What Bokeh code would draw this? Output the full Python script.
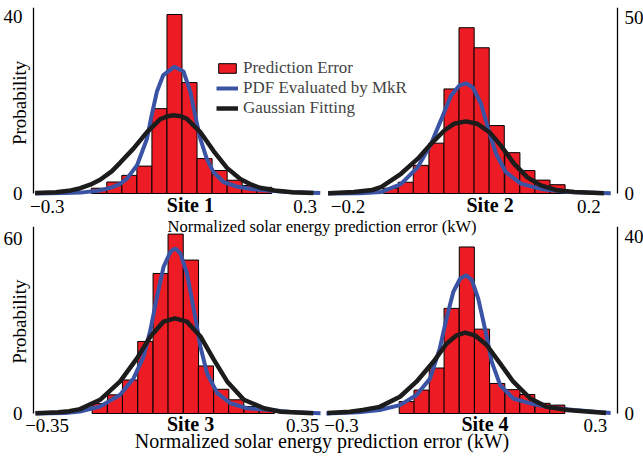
from bokeh.plotting import figure
from bokeh.models import Range1d, LinearAxis, FixedTicker, Legend, LegendItem
from bokeh.core.properties import value
from bokeh.layouts import column
from bokeh.embed import file_html
from bokeh.resources import INLINE

# ---------------- data ----------------
# Site 1
s1_bin_centers = [-0.180, -0.144, -0.109, -0.074, -0.039, -0.004, 0.031, 0.066, 0.101, 0.136, 0.170, 0.205]
s1_bin_heights = [1.2, 2.6, 4.1, 6.2, 19.2, 40.5, 25.1, 7.9, 5.2, 3.0, 1.8, 1.4]
s1_bin_width = 0.0349
s1_mkr_x = [-0.328, -0.26, -0.223, -0.177, -0.150, -0.130, -0.115, -0.091, -0.068, -0.057, -0.045,
            -0.030, -0.004, 0.017, 0.033, 0.044, 0.056, 0.071, 0.087, 0.110, 0.140, 0.175, 0.220, 0.27, 0.335]
s1_mkr_y = [0.0, 0.1, 0.2, 0.7, 1.4, 2.2, 3.3, 6.4, 12.4, 17.7, 23.0,
            26.8, 28.7, 27.6, 23.0, 17.7, 12.4, 7.9, 4.8, 2.6, 1.6, 1.0, 0.6, 0.3, 0.1]
s1_gauss_x = [-0.328, -0.28, -0.25, -0.223, -0.20, -0.177, -0.15, -0.13, -0.099, -0.068, -0.037, -0.02,
              -0.006, 0.01, 0.025, 0.056, 0.087, 0.118, 0.149, 0.175, 0.195, 0.234, 0.27, 0.319]
s1_gauss_y = [0.1, 0.3, 0.6, 1.2, 2.0, 3.1, 5.0, 7.0, 10.2, 13.9, 16.8, 17.5,
              17.7, 17.5, 16.9, 13.9, 9.6, 5.8, 3.3, 2.0, 1.3, 0.6, 0.3, 0.1]

# Site 2
s2_bin_centers = [-0.129, -0.104, -0.079, -0.053, -0.028, -0.003, 0.022, 0.047, 0.073, 0.098, 0.123, 0.148]
s2_bin_heights = [1.5, 3.2, 8.0, 14.3, 29.7, 47.1, 41.4, 19.3, 11.6, 6.5, 3.8, 2.5]
s2_bin_width = 0.0252
s2_mkr_x = [-0.233, -0.18, -0.145, -0.112, -0.084, -0.062, -0.046, -0.029, -0.015, -0.004, 0.007,
            0.021, 0.032, 0.046, 0.062, 0.087, 0.120, 0.165, 0.2365]
s2_mkr_y = [0.0, 0.1, 0.4, 2.7, 7.5, 14.1, 20.7, 27.8, 30.7, 31.3, 30.2,
            25.5, 18.8, 11.3, 6.1, 2.8, 1.3, 0.4, 0.1]
s2_gauss_x = [-0.233, -0.19, -0.16, -0.145, -0.112, -0.084, -0.062, -0.040, -0.024, -0.004, 0.015,
              0.035, 0.054, 0.076, 0.098, 0.120, 0.148, 0.176, 0.225]
s2_gauss_y = [0.1, 0.4, 1.0, 1.8, 5.6, 9.9, 14.1, 17.9, 19.8, 20.5, 19.8,
              17.4, 13.6, 8.4, 4.6, 2.3, 0.9, 0.4, 0.1]

# Site 3
s3_bin_centers = [-0.206, -0.164, -0.123, -0.081, -0.039, 0.002, 0.044, 0.085, 0.127, 0.168, 0.210, 0.252]
s3_bin_heights = [3.4, 6.4, 11.5, 24.7, 48.0, 61.5, 52.6, 16.3, 8.3, 4.7, 2.4, 1.0]
s3_bin_width = 0.0416
s3_mkr_x = [-0.382, -0.30, -0.260, -0.205, -0.150, -0.113, -0.086, -0.067, -0.049, -0.031, -0.012, 0.001,
            0.015, 0.033, 0.052, 0.070, 0.088, 0.116, 0.152, 0.198, 0.253, 0.32, 0.399]
s3_mkr_y = [0.0, 0.2, 0.7, 2.4, 6.4, 12.1, 19.5, 28.7, 40.1, 50.3, 55.5, 56.6,
            54.9, 48.0, 35.5, 22.9, 13.8, 7.0, 3.5, 1.8, 1.3, 0.5, 0.1]
s3_gauss_x = [-0.382, -0.32, -0.29, -0.260, -0.205, -0.150, -0.104, -0.067, -0.031, 0.000,
              0.033, 0.070, 0.107, 0.143, 0.189, 0.244, 0.29, 0.379]
s3_gauss_y = [0.1, 0.4, 0.8, 1.5, 4.7, 11.0, 18.9, 26.4, 31.5, 32.6,
              31.5, 26.4, 18.4, 11.0, 4.7, 1.8, 0.6, 0.1]

# Site 4
s4_bin_centers = [-0.146, -0.111, -0.075, -0.040, -0.004, 0.032, 0.068, 0.104, 0.139, 0.175, 0.210]
s4_bin_heights = [2.7, 5.3, 10.3, 23.8, 37.7, 19.1, 6.8, 5.4, 4.3, 2.3, 1.9]
s4_bin_width = 0.0356
s4_mkr_x = [-0.336, -0.26, -0.210, -0.162, -0.123, -0.091, -0.068, -0.052, -0.036, -0.020, -0.006,
            0.008, 0.023, 0.039, 0.055, 0.075, 0.106, 0.146, 0.185, 0.249, 0.336]
s4_mkr_y = [0.0, 0.3, 0.8, 1.9, 4.2, 7.9, 14.7, 21.5, 27.5, 30.5, 31.3,
            30.2, 26.0, 19.2, 11.7, 6.4, 3.4, 2.3, 1.5, 0.8, 0.1]
s4_gauss_x = [-0.334, -0.28, -0.25, -0.210, -0.162, -0.123, -0.083, -0.052, -0.028, -0.008,
              0.015, 0.043, 0.075, 0.106, 0.146, 0.185, 0.233, 0.325]
s4_gauss_y = [0.1, 0.4, 0.8, 1.5, 3.8, 7.2, 11.7, 15.8, 17.7, 18.3,
              17.7, 15.5, 11.3, 7.2, 3.4, 1.5, 0.8, 0.1]

site_names = ["Site 1", "Site 2", "Site 3", "Site 4"]
x_ticks = [[-0.3, 0.3], [-0.2, 0.2], [-0.35, 0.35], [-0.3, 0.3]]
y_ticks = [[0, 40], [0, 50], [0, 60], [0, 40]]
legend_labels = ["Prediction Error", "PDF Evaluated by MkR", "Gaussian Fitting"]
x_label = "Normalized solar energy prediction error (kW)"
y_label = "Probability"

# ---------------- styling / layout ----------------
FONT = "Liberation Serif"
RED = "#ED1C24"
BLUE = "#3A53A4"
BLACK = "#1C1C1C"

CANVAS_X0 = 0            # page x of the canvas' left edge
CANVAS_W = 643           # frame covers the whole canvas width
AXIS_LEFT_PX = 33        # page x of the left-hand value axis
AXIS_RIGHT_PX = 617      # page x of the right-hand value axis
YLABEL_PX = 19           # page x of the centre of the "Probability" label
# per panel: page-x of value 0, pixels per x unit, pixels per y unit, site label x (data)
PANEL_GEOM = [
    dict(x0=175.7, sx=430.0, sy=4.42, site_x=0.033),
    dict(x0=467.9, sx=602.0, sy=3.52, site_x=0.036),
    dict(x0=174.4, sx=365.0, sy=2.917, site_x=0.043),
    dict(x0=468.0, sx=423.0, sy=4.417, site_x=0.039),
]

panels = [
    (s1_bin_centers, s1_bin_heights, s1_bin_width, s1_mkr_x, s1_mkr_y, s1_gauss_x, s1_gauss_y),
    (s2_bin_centers, s2_bin_heights, s2_bin_width, s2_mkr_x, s2_mkr_y, s2_gauss_x, s2_gauss_y),
    (s3_bin_centers, s3_bin_heights, s3_bin_width, s3_mkr_x, s3_mkr_y, s3_gauss_x, s3_gauss_y),
    (s4_bin_centers, s4_bin_heights, s4_bin_width, s4_mkr_x, s4_mkr_y, s4_gauss_x, s4_gauss_y),
]


def px_to_x(g, px):
    return (px - g["x0"]) / g["sx"]


def x_span(g):
    return Range1d(px_to_x(g, CANVAS_X0), px_to_x(g, CANVAS_X0 + CANVAS_W))


def make_row(i_left, i_right, top_px, base_px, bottom_px, tick_standoff, site_off,
             label_size, label_standoff, with_legend, top_margin, ylabel_px):
    """top_px/base_px/bottom_px: page-y of frame top, zero line and frame bottom."""
    gl, gr = PANEL_GEOM[i_left], PANEL_GEOM[i_right]
    frame_h = bottom_px - top_px
    below = bottom_px - base_px
    above = base_px - top_px
    yl = Range1d(-below / gl["sy"], above / gl["sy"])
    yr = Range1d(-below / gr["sy"], above / gr["sy"])
    p = figure(frame_width=CANVAS_W, frame_height=frame_h,
               x_range=x_span(gl), y_range=yl,
               x_axis_type=None, y_axis_type=None,
               output_backend="svg", toolbar_location=None,
               min_border_left=0, min_border_right=0, min_border_top=0, min_border_bottom=0,
               margin=(top_margin, 0, 0, 0))
    p.extra_x_ranges = {"xr": x_span(gr)}
    p.extra_y_ranges = {"yr": yr}
    p.outline_line_color = None
    p.background_fill_alpha = 0
    p.border_fill_alpha = 0

    rends = []
    for idx, xn, yn in ((i_left, "default", "default"), (i_right, "xr", "yr")):
        c, h, w, mx, my, gx, gy = panels[idx]
        rb = p.vbar(x=c, top=h, width=w, bottom=0, fill_color=RED, line_color="black",
                    line_width=1, x_range_name=xn, y_range_name=yn)
        rm = p.line(mx, my, line_color=BLUE, line_width=4, x_range_name=xn, y_range_name=yn)
        rg = p.line(gx, gy, line_color=BLACK, line_width=4.5, x_range_name=xn, y_range_name=yn)
        p.text(x=[PANEL_GEOM[idx]["site_x"]], y=[0], text=[site_names[idx]],
               text_font=value(FONT), text_font_style="bold", text_font_size="20px",
               text_align="center", text_baseline="top", y_offset=site_off,
               x_range_name=xn, y_range_name=yn)
        rends.append((rb, rm, rg))

    common = dict(major_tick_line_color=None, minor_tick_line_color=None,
                  major_label_text_font=FONT, major_label_text_font_size="19px",
                  major_label_text_color="black")

    # value axes (tick labels) at the panel edges, with their axis lines
    axl_x = px_to_x(gl, AXIS_LEFT_PX)
    axr_x = px_to_x(gr, AXIS_RIGHT_PX)
    ax_l = LinearAxis(ticker=FixedTicker(ticks=y_ticks[i_left]), fixed_location=axl_x,
                      axis_line_color=None, major_label_standoff=5, **common)
    p.add_layout(ax_l, "left")
    ax_r = LinearAxis(x_range_name="xr", y_range_name="yr", fixed_location=axr_x,
                      ticker=FixedTicker(ticks=y_ticks[i_right]),
                      axis_line_color=None, major_label_standoff=1, **common)
    p.add_layout(ax_r, "right")
    p.segment(x0=[axl_x], y0=[0], x1=[axl_x], y1=[yl.end], line_color="black", line_width=1.3)
    p.segment(x0=[axr_x], y0=[0], x1=[axr_x], y1=[yr.end], line_color="black", line_width=1.3,
              x_range_name="xr", y_range_name="yr")
    p.text(x=[px_to_x(gl, YLABEL_PX)], y=[ylabel_px], text=[y_label], angle=90, angle_units="deg",
           text_font=value(FONT), text_font_size="19px", text_align="center",
           text_baseline="middle")

    # x tick labels of each panel, drawn along the panel's zero line
    for idx, xn, yn in ((i_left, "default", "default"), (i_right, "xr", "yr")):
        ax = LinearAxis(x_range_name=xn, y_range_name=yn, fixed_location=0,
                        ticker=FixedTicker(ticks=x_ticks[idx]), axis_line_color=None,
                        major_label_standoff=tick_standoff, **common)
        p.add_layout(ax, "below")

    # shared x label for the row
    ax_lab = LinearAxis(ticker=FixedTicker(ticks=[]), axis_line_color=None, major_label_standoff=0,
                        axis_label=x_label, axis_label_standoff=label_standoff,
                        axis_label_text_font=FONT, axis_label_text_font_style="normal",
                        axis_label_text_font_size=label_size, axis_label_text_color="black", **common)
    p.add_layout(ax_lab, "below")

    if with_legend:
        rb, rm, rg = rends[0]
        legend = Legend(items=[LegendItem(label=legend_labels[0], renderers=[rb]),
                               LegendItem(label=legend_labels[1], renderers=[rm]),
                               LegendItem(label=legend_labels[2], renderers=[rg])],
                        location=(216 - CANVAS_X0, bottom_px - 118), orientation="vertical",
                        label_text_font=FONT, label_text_font_size="17px",
                        glyph_width=22, glyph_height=12, label_height=16, label_standoff=5,
                        spacing=-2, padding=0, margin=0, border_line_color=None,
                        background_fill_alpha=0)
        p.add_layout(legend)
    return p


top = make_row(0, 1, top_px=7, base_px=193, bottom_px=217, tick_standoff=0, site_off=0,
               label_size="16.5px", label_standoff=-1, with_legend=True, top_margin=7,
               ylabel_px=20.5)
bottom = make_row(2, 3, top_px=225, base_px=412, bottom_px=432, tick_standoff=-1, site_off=-1,
                  label_size="20px", label_standoff=-4, with_legend=False, top_margin=-12,
                  ylabel_px=31.5)

layout = column(top, bottom, spacing=0)
open("out.html", "w").write(file_html(layout, INLINE))
